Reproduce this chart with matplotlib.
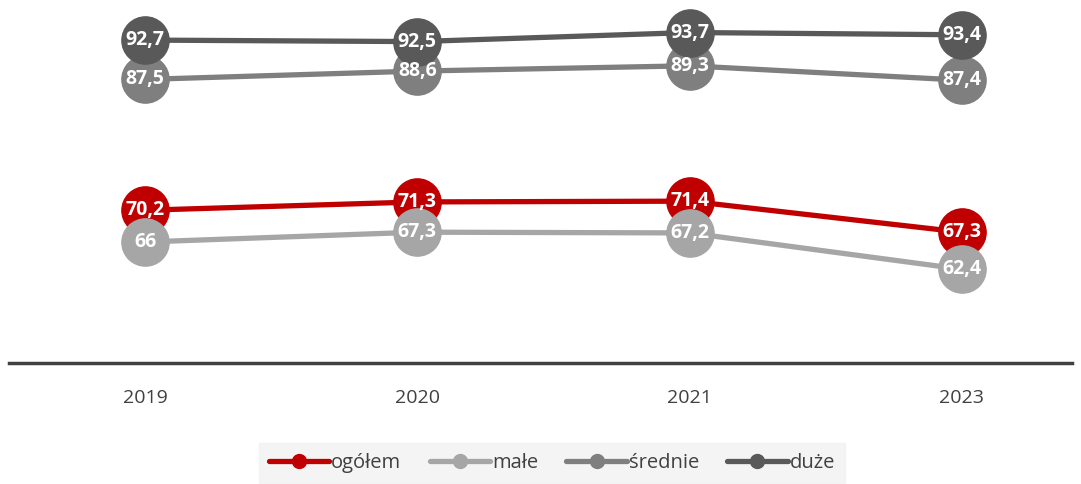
import matplotlib.pyplot as plt

years = ['2019', '2020', '2021', '2023']
ogolem = [70.2, 71.3, 71.4, 67.3]
male = [66, 67.3, 67.2, 62.4]
srednie = [87.5, 88.6, 89.3, 87.4]
duze = [92.7, 92.5, 93.7, 93.4]

series = [
    ('ogółem', ogolem, '#C00000'),
    ('małe', male, '#A6A6A6'),
    ('średnie', srednie, '#7F7F7F'),
    ('duże', duze, '#595959'),
]

plt.rcParams['font.family'] = ['Open Sans', 'DejaVu Sans']

fig = plt.figure(figsize=(10.81, 4.84), dpi=100)
ax = fig.add_axes([9 / 1081, 1 - 363 / 484, 1063 / 1081, 363 / 484])

x = list(range(len(years)))
for name, vals, col in series:
    ax.plot(x, vals, color=col, lw=3.8, marker='o', ms=34,
            solid_capstyle='round', zorder=2)
    for xi, v in zip(x, vals):
        lbl = f'{v:g}'.replace('.', ',')
        ax.text(xi, v, lbl, ha='center', va='center', color='white',
                fontsize=14, fontweight='bold', zorder=5)

ax.set_xlim(-0.50, 3.405)
ax.set_ylim(50, 98)
ax.set_xticks(x)
ax.set_xticklabels(years, fontsize=14, color='#404040')
ax.tick_params(axis='x', length=0, pad=19)
ax.set_yticks([])
for s in ['top', 'left', 'right']:
    ax.spines[s].set_visible(False)
ax.spines['bottom'].set_color('#404040')
ax.spines['bottom'].set_linewidth(2.5)

leg_handles = [plt.Line2D([0], [0], color=c, lw=3.8, marker='o', ms=10,
                          solid_capstyle='round') for _, _, c in series]
leg = fig.legend(leg_handles, [s[0] for s in series], loc='center',
                 bbox_to_anchor=(552 / 1081, 1 - 463 / 484), ncol=4,
                 frameon=True, fontsize=14.5, handlelength=3.0,
                 handletextpad=0.1, columnspacing=1.4,
                 borderpad=0.5, borderaxespad=0, fancybox=False)
leg.get_frame().set_facecolor('#F2F2F2')
leg.get_frame().set_edgecolor('#F2F2F2')
for t in leg.get_texts():
    t.set_color('#404040')

fig.savefig('out.png', dpi=100)
